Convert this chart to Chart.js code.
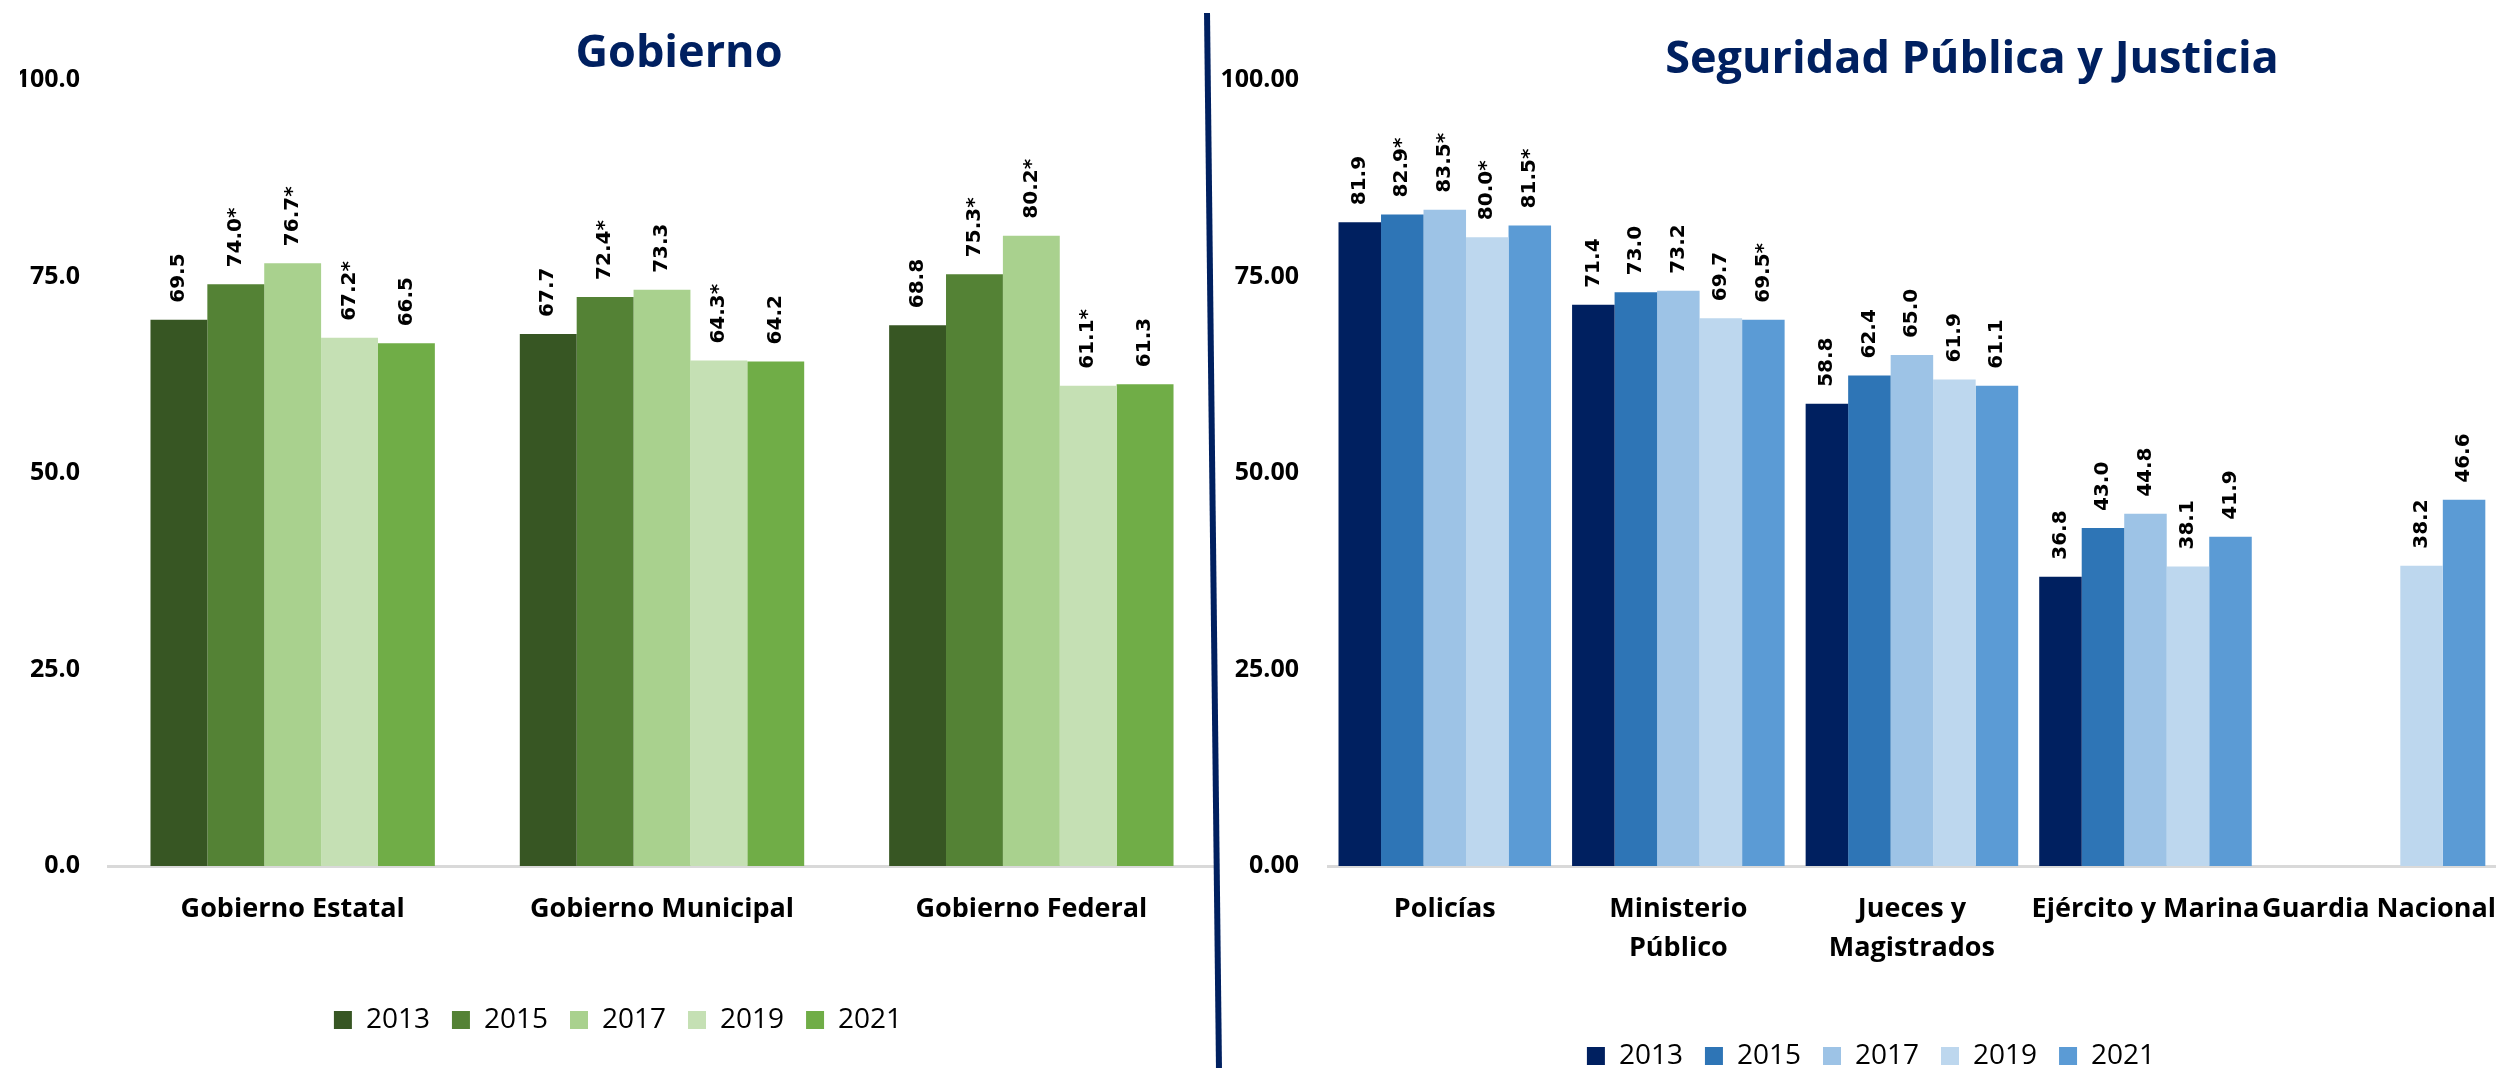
<!DOCTYPE html>
<html>
<head>
<meta charset="utf-8">
<script src="https://cdn.jsdelivr.net/npm/chart.js@4.4.0/dist/chart.umd.min.js"></script>
<style>
  html, body { margin: 0; padding: 0; background: #fff; overflow: hidden; width: 2519px; height: 1068px; }
  canvas { position: absolute; top: 0; }
  #cLeft { left: 0; }
  #cRight { left: 1222px; }
  #divider { position: absolute; left: 1210px; top: 13px; width: 6px; height: 1055px;
             background: #002060; transform: rotate(-0.65deg); z-index: 5; }
</style>
</head>
<body>
<canvas id="cLeft" width="1230" height="1068"></canvas>
<canvas id="cRight" width="1298" height="1080"></canvas>
<div id="divider"></div>
<script>
// Two panels: Gobierno (green) and Seguridad Pública y Justicia (blue).
const years = ['2013', '2015', '2017', '2019', '2021'];
const yTicks = [0, 25, 50, 75, 100];

// --- Gobierno ---
const gobCategories = ['Gobierno Estatal', 'Gobierno Municipal', 'Gobierno Federal'];
const gob2013 = [69.5, 67.7, 68.8];
const gob2015 = [74.0, 72.4, 75.3];
const gob2017 = [76.7, 73.3, 80.2];
const gob2019 = [67.2, 64.3, 61.1];
const gob2021 = [66.5, 64.2, 61.3];
// "*" marks as printed next to the values
const gobStar2013 = [false, false, false];
const gobStar2015 = [true, true, true];
const gobStar2017 = [true, false, true];
const gobStar2019 = [true, true, true];
const gobStar2021 = [false, false, false];
const greens = ['#375623', '#548235', '#A9D18E', '#C5E0B4', '#70AD47'];

// --- Seguridad Pública y Justicia ---
const segCategories = ['Policías', ['Ministerio', 'Público'], ['Jueces y', 'Magistrados'], 'Ejército y Marina', 'Guardia Nacional'];
const seg2013 = [81.9, 71.4, 58.8, 36.8, null];
const seg2015 = [82.9, 73.0, 62.4, 43.0, null];
const seg2017 = [83.5, 73.2, 65.0, 44.8, null];
const seg2019 = [80.0, 69.7, 61.9, 38.1, 38.2];
const seg2021 = [81.5, 69.5, 61.1, 41.9, 46.6];
const segStar2013 = [false, false, false, false, false];
const segStar2015 = [true, false, false, false, false];
const segStar2017 = [true, false, false, false, false];
const segStar2019 = [true, false, false, false, false];
const segStar2021 = [true, true, false, false, false];
const blues = ['#002060', '#2E75B6', '#9DC3E6', '#BDD7EE', '#5B9BD5'];

const FONT = '"Open Sans", Lato, sans-serif';
Chart.defaults.font.family = FONT;
Chart.defaults.color = '#000';
Chart.defaults.animation = false;

// vertical value labels above each bar, e.g. "74.0*"
const barLabels = {
  id: 'barLabels',
  afterDatasetsDraw(chart, args, opts) {
    const { ctx } = chart;
    ctx.save();
    ctx.font = 'bold 20px "DejaVu Sans", Verdana, sans-serif';
    ctx.fillStyle = '#000';
    ctx.textAlign = 'left';
    ctx.textBaseline = 'middle';
    chart.data.datasets.forEach((ds, i) => {
      chart.getDatasetMeta(i).data.forEach((bar, j) => {
        const v = ds.data[j];
        if (v == null) return;
        ctx.save();
        ctx.translate(bar.x, bar.y - opts.gap);
        ctx.rotate(-Math.PI / 2);
        ctx.fillText(v.toFixed(1) + (ds.stars[j] ? '*' : ''), 0, 0);
        ctx.restore();
      });
    });
    ctx.restore();
  },
};

// panel heading, placed where the source has it (not centred on the canvas)
const panelTitle = {
  id: 'panelTitle',
  afterDraw(chart, args, opts) {
    const { ctx } = chart;
    ctx.save();
    ctx.font = `bold ${opts.size}px ${FONT}`;
    ctx.fillStyle = '#002060';
    ctx.textAlign = 'center';
    ctx.textBaseline = 'alphabetic';
    ctx.fillText(opts.text, opts.x, opts.y);
    ctx.restore();
  },
};

function makeDatasets(series, stars, colors) {
  return series.map((data, i) => ({
    label: years[i],
    data,
    stars: stars[i],
    backgroundColor: colors[i],
    borderWidth: 0,
    barPercentage: 1.0,
  }));
}

function panel(canvasId, cfg) {
  return new Chart(document.getElementById(canvasId), {
    type: 'bar',
    data: { labels: cfg.labels, datasets: cfg.datasets },
    plugins: [barLabels, panelTitle],
    options: {
      responsive: false,
      layout: { padding: cfg.padding },
      datasets: { bar: { categoryPercentage: cfg.catPct } },
      plugins: {
        legend: {
          position: 'bottom',
          labels: { boxWidth: 18, boxHeight: 18, padding: 22, color: '#000', font: { family: FONT, size: 28 } },
        },
        tooltip: { enabled: false },
        barLabels: { gap: 17 },
        panelTitle: cfg.title,
      },
      scales: {
        y: {
          min: 0, max: 100,
          afterBuildTicks: (s) => { s.ticks = yTicks.map((v) => ({ value: v })); },
          afterFit: (s) => { s.width = cfg.yWidth; },
          ticks: { padding: cfg.yPad, color: '#000', font: { family: FONT, size: 25, weight: 'bold' },
                   callback: (v) => Number(v).toFixed(cfg.decimals) },
          grid: { display: false, drawTicks: false },
          border: { display: false },
        },
        x: {
          afterFit: (s) => { s.height = cfg.xHeight; },
          ticks: { padding: 24, color: '#000', maxRotation: 0, autoSkip: false,
                   font: { family: FONT, size: 27, weight: 'bold', lineHeight: 1.44 } },
          grid: { display: false, drawTicks: false },
          border: { display: true, color: '#D9D9D9', width: 3 },
        },
      },
    },
  });
}

panel('cLeft', {
  labels: gobCategories,
  datasets: makeDatasets([gob2013, gob2015, gob2017, gob2019, gob2021],
    [gobStar2013, gobStar2015, gobStar2017, gobStar2019, gobStar2021], greens),
  catPct: 0.77,
  padding: { top: 80, left: 20, right: 14, bottom: 24 },
  yWidth: 88, yPad: 28, decimals: 1, xHeight: 118,
  title: { text: 'Gobierno', x: 679, y: 67, size: 45 },
});

panel('cRight', {
  labels: segCategories,
  datasets: makeDatasets([seg2013, seg2015, seg2017, seg2019, seg2021],
    [segStar2013, segStar2015, segStar2017, segStar2019, segStar2021], blues),
  catPct: 0.91,
  padding: { top: 80, left: 0, right: 0, bottom: 0 },
  yWidth: 106, yPad: 29, decimals: 2, xHeight: 154,
  title: { text: 'Seguridad Pública y Justicia', x: 750, y: 73, size: 45 },
});
</script>
</body>
</html>
